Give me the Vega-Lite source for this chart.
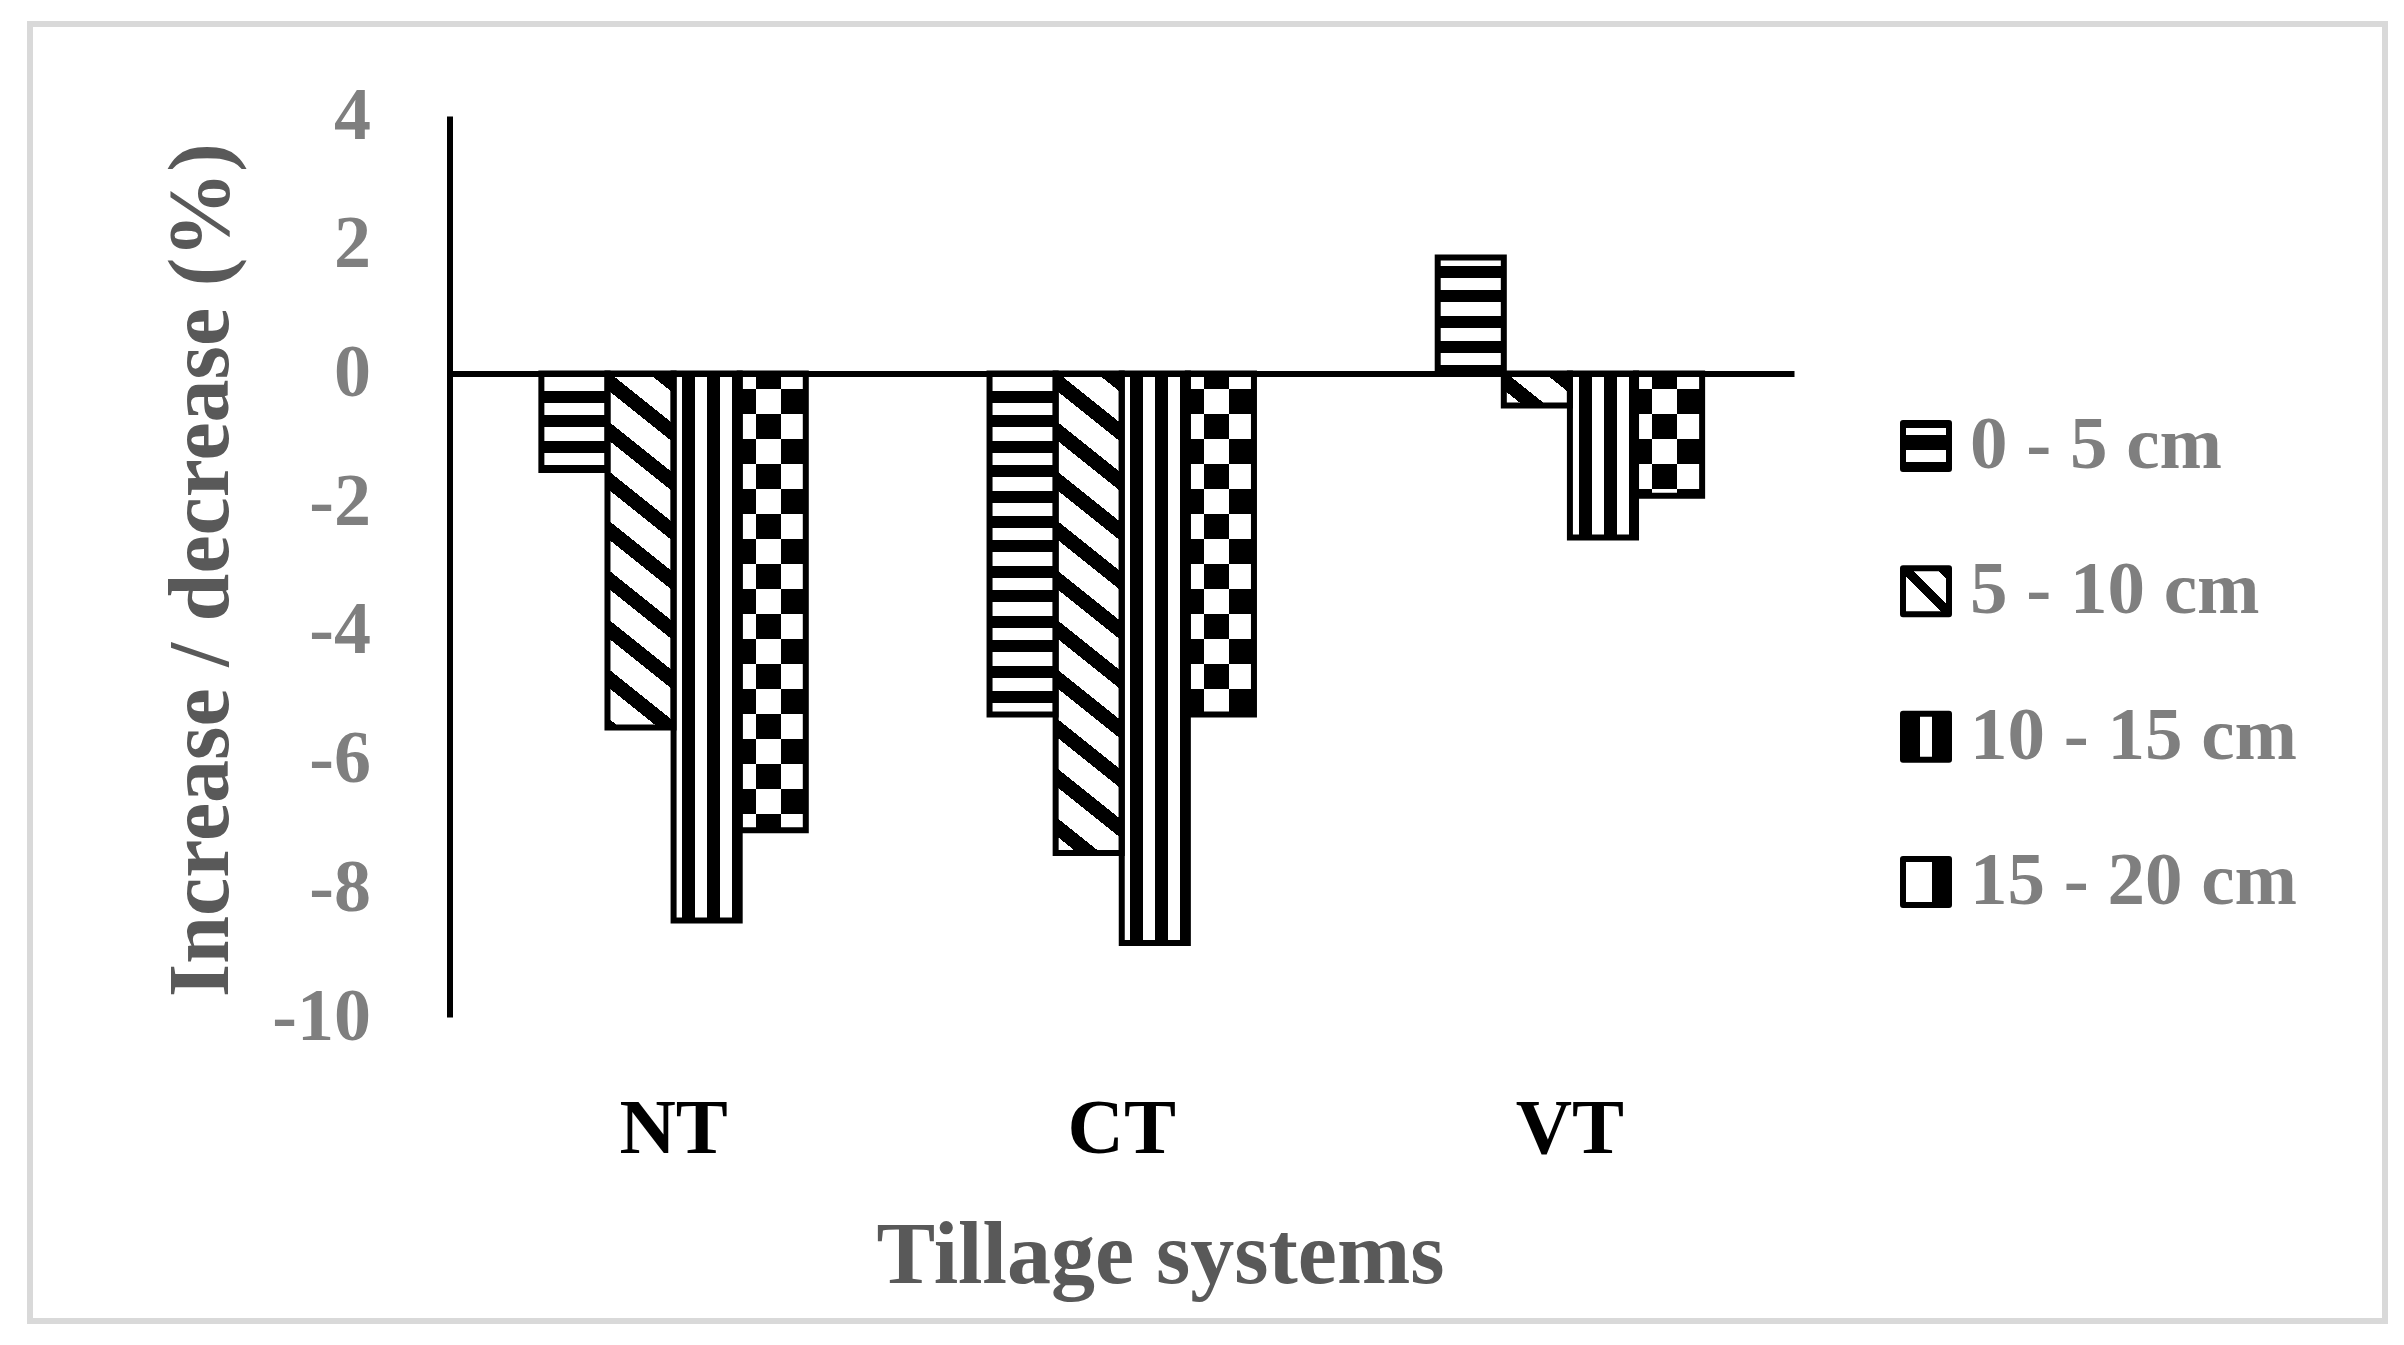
{
  "$schema": "https://vega.github.io/schema/vega-lite/v6.json",
  "width": 2355,
  "height": 1297,
  "autosize": {"type": "none"},
  "padding": {"left": 30, "top": 24, "right": 19, "bottom": 24},
  "background": "#ffffff",
  "config": {"view": {"stroke": "#d9d9d9", "strokeWidth": 6, "fill": "#ffffff"}},
  "data": {
    "values": [
      {"tillage": "NT", "series": "0 - 5 cm", "value": -1.5},
      {"tillage": "NT", "series": "5 - 10 cm", "value": -5.5},
      {"tillage": "NT", "series": "10 - 15 cm", "value": -8.5},
      {"tillage": "NT", "series": "15 - 20 cm", "value": -7.1},
      {"tillage": "CT", "series": "0 - 5 cm", "value": -5.3},
      {"tillage": "CT", "series": "5 - 10 cm", "value": -7.45},
      {"tillage": "CT", "series": "10 - 15 cm", "value": -8.85},
      {"tillage": "CT", "series": "15 - 20 cm", "value": -5.3},
      {"tillage": "VT", "series": "0 - 5 cm", "value": 1.8},
      {"tillage": "VT", "series": "5 - 10 cm", "value": -0.5},
      {"tillage": "VT", "series": "10 - 15 cm", "value": -2.55},
      {"tillage": "VT", "series": "15 - 20 cm", "value": -1.9}
    ]
  },
  "resolve": {"scale": {"x": "independent", "y": "independent"}},
  "layer": [
    {
      "encoding": {
        "x": {
          "field": "tillage", "type": "nominal", "sort": ["NT", "CT", "VT"],
          "scale": {"range": [419.5, 1764], "paddingInner": 0.41, "paddingOuter": 0.205},
          "axis": {
            "orient": "bottom", "offset": -947.57, "domain": true, "domainColor": "#000000", "domainWidth": 6,
            "ticks": false, "tickSize": 0, "grid": false, "labelAngle": 0,
            "labelPadding": 778.6, "labelBaseline": "alphabetic",
            "labelFont": "Liberation Serif", "labelFontWeight": "bold", "labelFontSize": 78, "labelColor": "#000000",
            "title": "Tillage systems", "titleFont": "Liberation Serif", "titleFontWeight": "bold", "titleFontSize": 88,
            "titleColor": "#595959", "titleX": 1130, "titleY": 908.6, "titleBaseline": "alphabetic", "titleAlign": "center",
            "zindex": 1
          }
        },
        "xOffset": {
          "field": "series", "type": "nominal",
          "sort": ["0 - 5 cm", "5 - 10 cm", "10 - 15 cm", "15 - 20 cm"],
          "scale": {"paddingInner": 0, "paddingOuter": 0}
        },
        "y": {
          "field": "value", "type": "quantitative",
          "scale": {"domain": [-10, 4], "range": [993, 92], "nice": false, "zero": false},
          "axis": {
            "orient": "left", "offset": -419.5, "values": [-10, -8, -6, -4, -2, 0, 2, 4],
            "domain": true, "domainColor": "#000000", "domainWidth": 6,
            "ticks": false, "tickSize": 0, "grid": false,
            "labelPadding": 79, "labelAlign": "right", "labelBaseline": "middle",
            "labelFont": "Liberation Serif", "labelFontWeight": "bold", "labelFontSize": 74, "labelColor": "#7f7f7f",
            "labelExpr": "'' + datum.value", "labelOverlap": false, "labelFlush": false,
            "title": "Increase / decrease (%)", "titleFont": "Liberation Serif", "titleFontWeight": "bold",
            "titleFontSize": 86, "titleColor": "#595959", "titleAngle": 270,
            "titleX": -222.5, "titleY": 545.6, "titleBaseline": "alphabetic", "titleAlign": "center",
            "zindex": 1
          }
        },
        "y2": {"datum": 0}
      },
      "layer": [
        {
          "transform": [{"filter": "datum.series === '0 - 5 cm'"}],
          "mark": {"type": "bar", "fill": {"gradient": "linear", "x1": 0, "y1": 0, "x2": 0, "y2": 1, "stops": [
            {"offset": 0, "color": "#000"},
            {"offset": 0.0151, "color": "#000"}, {"offset": 0.0151, "color": "#fff"}, {"offset": 0.0404, "color": "#fff"}, {"offset": 0.0404, "color": "#000"},
            {"offset": 0.0637, "color": "#000"}, {"offset": 0.0637, "color": "#fff"}, {"offset": 0.0889, "color": "#fff"}, {"offset": 0.0889, "color": "#000"},
            {"offset": 0.1122, "color": "#000"}, {"offset": 0.1122, "color": "#fff"}, {"offset": 0.1375, "color": "#fff"}, {"offset": 0.1375, "color": "#000"},
            {"offset": 0.1608, "color": "#000"}, {"offset": 0.1608, "color": "#fff"}, {"offset": 0.1861, "color": "#fff"}, {"offset": 0.1861, "color": "#000"},
            {"offset": 0.2094, "color": "#000"}, {"offset": 0.2094, "color": "#fff"}, {"offset": 0.2346, "color": "#fff"}, {"offset": 0.2346, "color": "#000"},
            {"offset": 0.2579, "color": "#000"}, {"offset": 0.2579, "color": "#fff"}, {"offset": 0.2832, "color": "#fff"}, {"offset": 0.2832, "color": "#000"},
            {"offset": 0.3065, "color": "#000"}, {"offset": 0.3065, "color": "#fff"}, {"offset": 0.3317, "color": "#fff"}, {"offset": 0.3317, "color": "#000"},
            {"offset": 0.355, "color": "#000"}, {"offset": 0.355, "color": "#fff"}, {"offset": 0.3803, "color": "#fff"}, {"offset": 0.3803, "color": "#000"},
            {"offset": 0.4036, "color": "#000"}, {"offset": 0.4036, "color": "#fff"}, {"offset": 0.4288, "color": "#fff"}, {"offset": 0.4288, "color": "#000"},
            {"offset": 0.4521, "color": "#000"}, {"offset": 0.4521, "color": "#fff"}, {"offset": 0.4774, "color": "#fff"}, {"offset": 0.4774, "color": "#000"},
            {"offset": 0.5007, "color": "#000"}, {"offset": 0.5007, "color": "#fff"}, {"offset": 0.526, "color": "#fff"}, {"offset": 0.526, "color": "#000"},
            {"offset": 0.5493, "color": "#000"}, {"offset": 0.5493, "color": "#fff"}, {"offset": 0.5745, "color": "#fff"}, {"offset": 0.5745, "color": "#000"},
            {"offset": 0.5978, "color": "#000"}, {"offset": 0.5978, "color": "#fff"}, {"offset": 0.6231, "color": "#fff"}, {"offset": 0.6231, "color": "#000"},
            {"offset": 0.6464, "color": "#000"}, {"offset": 0.6464, "color": "#fff"}, {"offset": 0.6716, "color": "#fff"}, {"offset": 0.6716, "color": "#000"},
            {"offset": 0.6949, "color": "#000"}, {"offset": 0.6949, "color": "#fff"}, {"offset": 0.7202, "color": "#fff"}, {"offset": 0.7202, "color": "#000"},
            {"offset": 0.7435, "color": "#000"}, {"offset": 0.7435, "color": "#fff"}, {"offset": 0.7687, "color": "#fff"}, {"offset": 0.7687, "color": "#000"},
            {"offset": 0.792, "color": "#000"}, {"offset": 0.792, "color": "#fff"}, {"offset": 0.8173, "color": "#fff"}, {"offset": 0.8173, "color": "#000"},
            {"offset": 0.8406, "color": "#000"}, {"offset": 0.8406, "color": "#fff"}, {"offset": 0.8659, "color": "#fff"}, {"offset": 0.8659, "color": "#000"},
            {"offset": 0.8892, "color": "#000"}, {"offset": 0.8892, "color": "#fff"}, {"offset": 0.9144, "color": "#fff"}, {"offset": 0.9144, "color": "#000"},
            {"offset": 0.9377, "color": "#000"}, {"offset": 0.9377, "color": "#fff"}, {"offset": 0.963, "color": "#fff"}, {"offset": 0.963, "color": "#000"},
            {"offset": 0.9863, "color": "#000"}, {"offset": 0.9863, "color": "#fff"}, {"offset": 1, "color": "#fff"}
          ]}},
          "encoding": {"y": {"datum": 2, "type": "quantitative"}, "y2": {"datum": -6}}
        },
        {
          "transform": [{"filter": "datum.series === '5 - 10 cm'"}],
          "mark": {"type": "bar", "fill": {"gradient": "linear", "x1": 1, "y1": 0, "x2": 0.87988, "y2": 1.0964, "stops": [
            {"offset": 0, "color": "#fff"},
            {"offset": 0.0020, "color": "#fff"}, {"offset": 0.0020, "color": "#000"}, {"offset": 0.0370, "color": "#000"}, {"offset": 0.0370, "color": "#fff"},
            {"offset": 0.0944, "color": "#fff"}, {"offset": 0.0944, "color": "#000"}, {"offset": 0.1294, "color": "#000"}, {"offset": 0.1294, "color": "#fff"},
            {"offset": 0.1868, "color": "#fff"}, {"offset": 0.1868, "color": "#000"}, {"offset": 0.2218, "color": "#000"}, {"offset": 0.2218, "color": "#fff"},
            {"offset": 0.2793, "color": "#fff"}, {"offset": 0.2793, "color": "#000"}, {"offset": 0.3143, "color": "#000"}, {"offset": 0.3143, "color": "#fff"},
            {"offset": 0.3717, "color": "#fff"}, {"offset": 0.3717, "color": "#000"}, {"offset": 0.4067, "color": "#000"}, {"offset": 0.4067, "color": "#fff"},
            {"offset": 0.4641, "color": "#fff"}, {"offset": 0.4641, "color": "#000"}, {"offset": 0.4991, "color": "#000"}, {"offset": 0.4991, "color": "#fff"},
            {"offset": 0.5566, "color": "#fff"}, {"offset": 0.5566, "color": "#000"}, {"offset": 0.5916, "color": "#000"}, {"offset": 0.5916, "color": "#fff"},
            {"offset": 0.6490, "color": "#fff"}, {"offset": 0.6490, "color": "#000"}, {"offset": 0.6840, "color": "#000"}, {"offset": 0.6840, "color": "#fff"},
            {"offset": 0.7414, "color": "#fff"}, {"offset": 0.7414, "color": "#000"}, {"offset": 0.7764, "color": "#000"}, {"offset": 0.7764, "color": "#fff"},
            {"offset": 0.8338, "color": "#fff"}, {"offset": 0.8338, "color": "#000"}, {"offset": 0.8688, "color": "#000"}, {"offset": 0.8688, "color": "#fff"},
            {"offset": 0.9263, "color": "#fff"}, {"offset": 0.9263, "color": "#000"}, {"offset": 0.9613, "color": "#000"}, {"offset": 0.9613, "color": "#fff"},
            {"offset": 1, "color": "#fff"}
          ]}},
          "encoding": {"y": {"datum": 0, "type": "quantitative"}, "y2": {"datum": -7.5}}
        },
        {
          "transform": [{"filter": "datum.series === '10 - 15 cm'"}],
          "mark": {"type": "bar", "fill": {"gradient": "linear", "x1": 0, "y1": 0, "x2": 1, "y2": 0, "stops": [
            {"offset": 0, "color": "#fff"}, {"offset": 0.1316, "color": "#fff"}, {"offset": 0.1316, "color": "#000"},
            {"offset": 0.3283, "color": "#000"}, {"offset": 0.3283, "color": "#fff"}, {"offset": 0.5098, "color": "#fff"},
            {"offset": 0.5098, "color": "#000"}, {"offset": 0.7065, "color": "#000"}, {"offset": 0.7065, "color": "#fff"},
            {"offset": 0.888, "color": "#fff"}, {"offset": 0.888, "color": "#000"}, {"offset": 1, "color": "#000"}
          ]}}
        },
        {
          "transform": [{"filter": "datum.series === '15 - 20 cm'"}],
          "mark": {"type": "bar", "fill": {"gradient": "linear", "x1": 0, "y1": 0, "x2": 1, "y2": 0, "stops": [
            {"offset": 0, "color": "#fff"}, {"offset": 0.2466, "color": "#fff"}, {"offset": 0.2466, "color": "#000"},
            {"offset": 0.6248, "color": "#000"}, {"offset": 0.6248, "color": "#fff"}, {"offset": 1, "color": "#fff"}
          ]}},
          "encoding": {"y": {"datum": 0, "type": "quantitative"}, "y2": {"datum": -7.5}}
        },
        {
          "transform": [{"filter": "datum.series === '15 - 20 cm'"}],
          "mark": {"type": "bar", "blend": "difference", "fill": {"gradient": "linear", "x1": 0, "y1": 0, "x2": 0, "y2": 1, "stops": [
            {"offset": 0, "color": "#000"},
            {"offset": 0.0323, "color": "#000"}, {"offset": 0.0323, "color": "#fff"}, {"offset": 0.0841, "color": "#fff"}, {"offset": 0.0841, "color": "#000"},
            {"offset": 0.1359, "color": "#000"}, {"offset": 0.1359, "color": "#fff"}, {"offset": 0.1876, "color": "#fff"}, {"offset": 0.1876, "color": "#000"},
            {"offset": 0.2394, "color": "#000"}, {"offset": 0.2394, "color": "#fff"}, {"offset": 0.2912, "color": "#fff"}, {"offset": 0.2912, "color": "#000"},
            {"offset": 0.343, "color": "#000"}, {"offset": 0.343, "color": "#fff"}, {"offset": 0.3948, "color": "#fff"}, {"offset": 0.3948, "color": "#000"},
            {"offset": 0.4466, "color": "#000"}, {"offset": 0.4466, "color": "#fff"}, {"offset": 0.4984, "color": "#fff"}, {"offset": 0.4984, "color": "#000"},
            {"offset": 0.5502, "color": "#000"}, {"offset": 0.5502, "color": "#fff"}, {"offset": 0.602, "color": "#fff"}, {"offset": 0.602, "color": "#000"},
            {"offset": 0.6538, "color": "#000"}, {"offset": 0.6538, "color": "#fff"}, {"offset": 0.7056, "color": "#fff"}, {"offset": 0.7056, "color": "#000"},
            {"offset": 0.7574, "color": "#000"}, {"offset": 0.7574, "color": "#fff"}, {"offset": 0.8092, "color": "#fff"}, {"offset": 0.8092, "color": "#000"},
            {"offset": 0.861, "color": "#000"}, {"offset": 0.861, "color": "#fff"}, {"offset": 0.9128, "color": "#fff"}, {"offset": 0.9128, "color": "#000"},
            {"offset": 0.9646, "color": "#000"}, {"offset": 0.9646, "color": "#fff"}, {"offset": 1, "color": "#fff"}
          ]}},
          "encoding": {"y": {"datum": 0, "type": "quantitative"}, "y2": {"datum": -7.5}}
        },
        {
          "transform": [{"filter": "datum.value < 0"}],
          "mark": {"type": "bar", "fill": "#ffffff", "stroke": "#ffffff", "strokeWidth": 2},
          "encoding": {"y": {"datum": 4, "type": "quantitative"}, "y2": {"datum": 0}}
        },
        {
          "transform": [{"filter": "datum.value < 0"}],
          "mark": {"type": "bar", "fill": "#ffffff", "stroke": "#ffffff", "strokeWidth": 2},
          "encoding": {"y2": {"datum": -10}}
        },
        {
          "transform": [{"filter": "datum.value >= 0"}],
          "mark": {"type": "bar", "fill": "#ffffff", "stroke": "#ffffff", "strokeWidth": 2},
          "encoding": {"y2": {"datum": 4}}
        },
        {
          "transform": [{"filter": "datum.value >= 0"}],
          "mark": {"type": "bar", "fill": "#ffffff", "stroke": "#ffffff", "strokeWidth": 2},
          "encoding": {"y": {"datum": 0, "type": "quantitative"}, "y2": {"datum": -10}}
        },
        {
          "mark": {"type": "bar", "fill": "#ffffff", "fillOpacity": 0, "stroke": "#000000", "strokeWidth": 6}
        }
      ]
    },
    {
      "transform": [{"filter": "datum.tillage === 'NT'"}],
      "encoding": {
        "x": {"datum": 0, "type": "quantitative", "scale": {"domain": [0, 1], "range": [1896, 2355]}, "axis": null},
        "y": {
          "field": "series", "type": "nominal",
          "sort": ["0 - 5 cm", "5 - 10 cm", "10 - 15 cm", "15 - 20 cm"],
          "scale": {"type": "point", "range": [422, 858], "padding": 0},
          "axis": null
        }
      },
      "layer": [
        {
          "transform": [{"filter": "datum.series === '0 - 5 cm'"}],
          "mark": {"type": "square", "size": 2116, "opacity": 1, "stroke": "#000", "strokeWidth": 6, "strokeJoin": "round",
            "fill": {"gradient": "linear", "x1": 0, "y1": 0, "x2": 0, "y2": 1, "stops": [
              {"offset": 0, "color": "#000"}, {"offset": 0.1, "color": "#000"}, {"offset": 0.1, "color": "#fff"},
              {"offset": 0.27, "color": "#fff"}, {"offset": 0.27, "color": "#000"}, {"offset": 0.59, "color": "#000"},
              {"offset": 0.59, "color": "#fff"}, {"offset": 0.84, "color": "#fff"}, {"offset": 0.84, "color": "#000"}, {"offset": 1, "color": "#000"}
            ]}}
        },
        {
          "transform": [{"filter": "datum.series === '5 - 10 cm'"}],
          "mark": {"type": "square", "size": 2116, "opacity": 1, "stroke": "#000", "strokeWidth": 6, "strokeJoin": "round",
            "fill": {"gradient": "linear", "x1": 0, "y1": 1, "x2": 1, "y2": 0, "stops": [
              {"offset": 0, "color": "#fff"}, {"offset": 0.44, "color": "#fff"}, {"offset": 0.44, "color": "#000"},
              {"offset": 0.58, "color": "#000"}, {"offset": 0.58, "color": "#fff"}, {"offset": 0.86, "color": "#fff"},
              {"offset": 0.86, "color": "#000"}, {"offset": 1, "color": "#000"}
            ]}}
        },
        {
          "transform": [{"filter": "datum.series === '10 - 15 cm'"}],
          "mark": {"type": "square", "size": 2116, "opacity": 1, "stroke": "#000", "strokeWidth": 6, "strokeJoin": "round",
            "fill": {"gradient": "linear", "x1": 0, "y1": 0, "x2": 1, "y2": 0, "stops": [
              {"offset": 0, "color": "#000"}, {"offset": 0.38, "color": "#000"}, {"offset": 0.38, "color": "#fff"},
              {"offset": 0.62, "color": "#fff"}, {"offset": 0.62, "color": "#000"}, {"offset": 1, "color": "#000"}
            ]}}
        },
        {
          "transform": [{"filter": "datum.series === '15 - 20 cm'"}],
          "mark": {"type": "square", "size": 2116, "opacity": 1, "stroke": "#000", "strokeWidth": 6, "strokeJoin": "round",
            "fill": {"gradient": "linear", "x1": 0, "y1": 0, "x2": 1, "y2": 0, "stops": [
              {"offset": 0, "color": "#fff"}, {"offset": 0.62, "color": "#fff"}, {"offset": 0.62, "color": "#000"}, {"offset": 1, "color": "#000"}
            ]}}
        },
        {
          "mark": {"type": "text", "align": "left", "baseline": "alphabetic", "dx": 44, "dy": 22,
            "font": "Liberation Serif", "fontWeight": "bold", "fontSize": 75, "fill": "#7f7f7f", "opacity": 1},
          "encoding": {"text": {"field": "series", "type": "nominal"}}
        }
      ]
    }
  ]
}
